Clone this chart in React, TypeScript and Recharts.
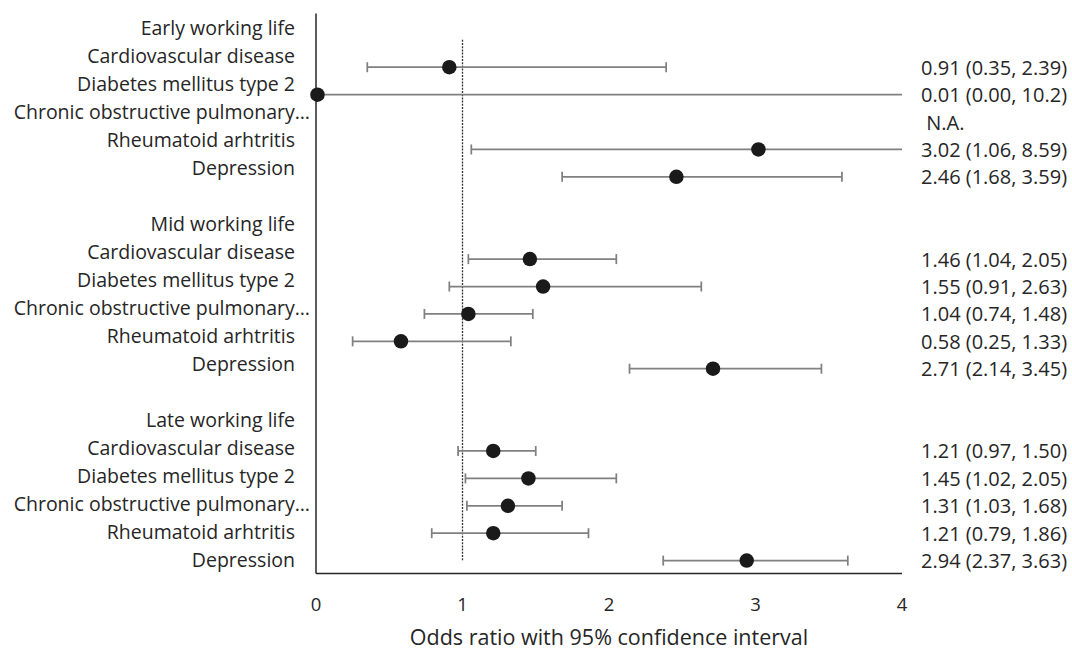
import React from "react"
import { ScatterChart, Scatter, XAxis, YAxis, ReferenceLine } from "recharts"

const periods = ["Early working life", "Mid working life", "Late working life"]
const diseases = [
  "Cardiovascular disease",
  "Diabetes mellitus type 2",
  "Chronic obstructive pulmonary…",
  "Rheumatoid arhtritis",
  "Depression",
]

// odds ratios and 95% CI per period (null = not available)
const earlyOR = [0.91, 0.01, null, 3.02, 2.46]
const earlyLow = [0.35, 0.0, null, 1.06, 1.68]
const earlyHigh = [2.39, 10.2, null, 8.59, 3.59]
const earlyText = ["0.91 (0.35, 2.39)", "0.01 (0.00, 10.2)", " N.A.", "3.02 (1.06, 8.59)", "2.46 (1.68, 3.59)"]

const midOR = [1.46, 1.55, 1.04, 0.58, 2.71]
const midLow = [1.04, 0.91, 0.74, 0.25, 2.14]
const midHigh = [2.05, 2.63, 1.48, 1.33, 3.45]
const midText = ["1.46 (1.04, 2.05)", "1.55 (0.91, 2.63)", "1.04 (0.74, 1.48)", "0.58 (0.25, 1.33)", "2.71 (2.14, 3.45)"]

const lateOR = [1.21, 1.45, 1.31, 1.21, 2.94]
const lateLow = [0.97, 1.02, 1.03, 0.79, 2.37]
const lateHigh = [1.5, 2.05, 1.68, 1.86, 3.63]
const lateText = ["1.21 (0.97, 1.50)", "1.45 (1.02, 2.05)", "1.31 (1.03, 1.68)", "1.21 (0.79, 1.86)", "2.94 (2.37, 3.63)"]

const xTicks = [0, 1, 2, 3, 4]
const xMax = xTicks[xTicks.length - 1]

const groups = [
  { or: earlyOR, low: earlyLow, high: earlyHigh, text: earlyText },
  { or: midOR, low: midLow, high: midHigh, text: midText },
  { or: lateOR, low: lateLow, high: lateHigh, text: lateText },
]

// row k: header at 7*p, diseases at 7*p + 1 + d
const rowLabels: Record<number, string> = {}
const annotations: Record<number, string> = {}
const points: { or: number; row: number; lo: number; hi: number }[] = []
groups.forEach((g, p) => {
  rowLabels[7 * p] = periods[p]
  diseases.forEach((name, d) => {
    const row = 7 * p + 1 + d
    rowLabels[row] = name
    annotations[row] = g.text[d]
    const or = g.or[d]
    const lo = g.low[d]
    const hi = g.high[d]
    if (or != null && lo != null && hi != null) points.push({ or, row, lo, hi })
  })
})

// whisker end caps (none where the interval runs off the axis)
const caps = points
  .flatMap((pt) => [{ or: pt.lo, row: pt.row }, { or: pt.hi, row: pt.row }])
  .filter((c) => c.or <= xMax)

const labelTicks = Object.keys(rowLabels).map((k) => Number(k) + 0.5)
const annotationTicks = Object.keys(annotations).map(Number)

const FONT = "'Open Sans', sans-serif"
const TEXT = "#262626"
const WHISKER = "#808080"

const RowTick = (props: any) => {
  const { x, y, payload } = props
  const label = rowLabels[Math.floor(payload.value)]
  if (!label) return null
  const shift = label.endsWith("…") ? 15 : 0
  return (
    <text x={x + shift} y={y} textAnchor="end" dominantBaseline="central" fontFamily={FONT} fontSize={19.5} fill={TEXT}>
      {label}
    </text>
  )
}

const AnnotationTick = (props: any) => {
  const { x, y, payload } = props
  return (
    <text x={x} y={y} textAnchor="start" dominantBaseline="central" fontFamily={FONT} fontSize={20} fill={TEXT} style={{ whiteSpace: "pre" }}>
      {annotations[payload.value]}
    </text>
  )
}

const XTick = (props: any) => {
  const { x, y, payload } = props
  return (
    <text x={x} y={y} textAnchor="middle" dominantBaseline="central" fontFamily={FONT} fontSize={18.5} fill={TEXT}>
      {payload.value}
    </text>
  )
}

const AxisTitle = (props: any) => {
  const { viewBox } = props
  return (
    <text x={viewBox.x + viewBox.width / 2} y={viewBox.y + 71.5} textAnchor="middle" fontFamily={FONT} fontSize={21.5} fill={TEXT}>
      Odds ratio with 95% confidence interval
    </text>
  )
}

const Dot = (props: any) => <circle cx={props.cx} cy={props.cy} r={7.25} fill="#1a1a1a" />
const Cap = (props: any) => (
  <line x1={props.cx} x2={props.cx} y1={props.cy - 5} y2={props.cy + 5} stroke={WHISKER} strokeWidth={1.75} />
)

export default function App() {
  return (
    <div style={{ position: "absolute", left: 0, top: 0, background: "#fff" }}>
      <ScatterChart width={1072} height={651} margin={{ top: 13.5, right: 0, bottom: 0, left: 0 }}>
        <XAxis
          xAxisId="main"
          type="number"
          dataKey="or"
          domain={[0, xMax]}
          ticks={xTicks}
          tickLine={false}
          tickSize={0}
          tickMargin={30}
          height={77.5}
          axisLine={{ stroke: TEXT, strokeWidth: 1.5 }}
          tick={<XTick />}
          label={{ content: <AxisTitle /> }}
        />
        <YAxis
          yAxisId="rows"
          type="number"
          orientation="left"
          domain={[0, 20]}
          allowDataOverflow
          reversed
          ticks={labelTicks}
          interval={0}
          width={316}
          tickLine={false}
          tickSize={0}
          tickMargin={21}
          axisLine={{ stroke: TEXT, strokeWidth: 1.5 }}
          tick={<RowTick />}
        />
        <YAxis
          yAxisId="pts"
          type="number"
          dataKey="row"
          orientation="right"
          domain={[-0.96, 19.47]}
          reversed
          ticks={annotationTicks}
          interval={0}
          width={170}
          tickLine={false}
          tickSize={0}
          tickMargin={19}
          axisLine={false}
          tick={<AnnotationTick />}
        />
        <ReferenceLine
          xAxisId="main"
          yAxisId="pts"
          segment={[{ x: 1, y: 0 }, { x: 1, y: 19 }]}
          stroke="#333333"
          strokeWidth={1.3}
          strokeDasharray="2 1.2"
        />
        {points.map((pt) => (
          <ReferenceLine
            key={`ci-${pt.row}`}
            xAxisId="main"
            yAxisId="pts"
            segment={[{ x: pt.lo, y: pt.row }, { x: pt.hi, y: pt.row }]}
            ifOverflow="hidden"
            stroke={WHISKER}
            strokeWidth={1.75}
          />
        ))}
        <Scatter data={caps} xAxisId="main" yAxisId="pts" isAnimationActive={false} shape={<Cap />} />
        <Scatter data={points} xAxisId="main" yAxisId="pts" isAnimationActive={false} shape={<Dot />} />
      </ScatterChart>
    </div>
  )
}
